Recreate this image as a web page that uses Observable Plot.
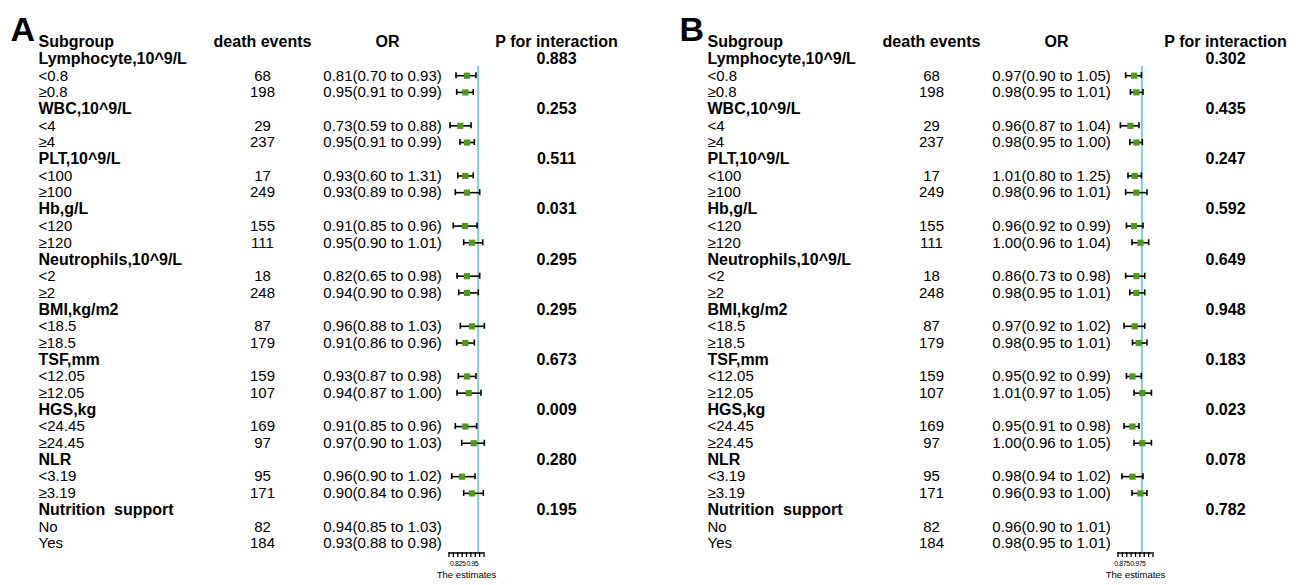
<!DOCTYPE html>
<html>
<head>
<meta charset="utf-8">
<script src="https://cdn.jsdelivr.net/npm/d3@7"></script>
<script src="https://cdn.jsdelivr.net/npm/@observablehq/plot@0.6"></script>
<style>
  body { margin: 0; background: #fff; }
  #wrap { position: relative; width: 1301px; height: 585px; overflow: hidden; background: #fff; }
  .panel { position: absolute; top: 0; }
  svg text { white-space: pre; }
  svg g[aria-label="x-axis tick label"] text { letter-spacing: -0.45px; }
</style>
</head>
<body>
<div id="wrap"></div>
<script>
// ---------- data ----------
const headers = ["Subgroup", "death events", "OR", "P for interaction"];
const groups = ["Lymphocyte,10^9/L", "WBC,10^9/L", "PLT,10^9/L", "Hb,g/L", "Neutrophils,10^9/L",
  "BMI,kg/m2", "TSF,mm", "HGS,kg", "NLR", "Nutrition  support"];
const levels = [["<0.8", "≥0.8"], ["<4", "≥4"], ["<100", "≥100"], ["<120", "≥120"], ["<2", "≥2"],
  ["<18.5", "≥18.5"], ["<12.05", "≥12.05"], ["<24.45", "≥24.45"], ["<3.19", "≥3.19"], ["No", "Yes"]];
const events = [68, 198, 29, 237, 17, 249, 155, 111, 18, 248, 87, 179, 159, 107, 169, 97, 95, 171, 82, 184];

// Panel A
const orA = ["0.81(0.70 to 0.93)", "0.95(0.91 to 0.99)", "0.73(0.59 to 0.88)", "0.95(0.91 to 0.99)",
  "0.93(0.60 to 1.31)", "0.93(0.89 to 0.98)", "0.91(0.85 to 0.96)", "0.95(0.90 to 1.01)",
  "0.82(0.65 to 0.98)", "0.94(0.90 to 0.98)", "0.96(0.88 to 1.03)", "0.91(0.86 to 0.96)",
  "0.93(0.87 to 0.98)", "0.94(0.87 to 1.00)", "0.91(0.85 to 0.96)", "0.97(0.90 to 1.03)",
  "0.96(0.90 to 1.02)", "0.90(0.84 to 0.96)", "0.94(0.85 to 1.03)", "0.93(0.88 to 0.98)"];
const pA = ["0.883", "0.253", "0.511", "0.031", "0.295", "0.295", "0.673", "0.009", "0.280", "0.195"];
// estimates as drawn in the forest column (axis units)
const estA = [0.904, 0.890, 0.847, 0.904, 0.890, 0.904, 0.887, 0.947, 0.904, 0.904, 0.947, 0.890, 0.904, 0.919, 0.890, 0.962, 0.861, 0.947, null, null];
const loA  = [0.810, 0.816, 0.759, 0.844, 0.825, 0.804, 0.787, 0.876, 0.819, 0.833, 0.847, 0.816, 0.830, 0.819, 0.804, 0.859, 0.773, 0.876, null, null];
const hiA  = [0.981, 0.958, 0.939, 0.967, 0.958, 1.013, 0.990, 1.039, 1.013, 1.001, 1.053, 0.967, 0.981, 1.024, 0.987, 1.053, 0.973, 1.044, null, null];
const domainA = [0.75, 1.05];
const ticksA = [0.75, 0.7875, 0.825, 0.8625, 0.9, 0.9375, 0.975, 1.0125, 1.05];
const tickLabelsA = [0.825, 0.95];

// Panel B
const orB = ["0.97(0.90 to 1.05)", "0.98(0.95 to 1.01)", "0.96(0.87 to 1.04)", "0.98(0.95 to 1.00)",
  "1.01(0.80 to 1.25)", "0.98(0.96 to 1.01)", "0.96(0.92 to 0.99)", "1.00(0.96 to 1.04)",
  "0.86(0.73 to 0.98)", "0.98(0.95 to 1.01)", "0.97(0.92 to 1.02)", "0.98(0.95 to 1.01)",
  "0.95(0.92 to 0.99)", "1.01(0.97 to 1.05)", "0.95(0.91 to 0.98)", "1.00(0.96 to 1.05)",
  "0.98(0.94 to 1.02)", "0.96(0.93 to 1.00)", "0.96(0.90 to 1.01)", "0.98(0.95 to 1.01)"];
const pB = ["0.302", "0.435", "0.247", "0.592", "0.649", "0.948", "0.183", "0.023", "0.078", "0.782"];
const estB = [0.951, 0.966, 0.928, 0.966, 0.955, 0.966, 0.951, 0.991, 0.966, 0.966, 0.955, 0.980, 0.941, 1.003, 0.941, 1.003, 0.941, 0.991, null, null];
const loB  = [0.898, 0.928, 0.865, 0.924, 0.913, 0.898, 0.903, 0.938, 0.898, 0.924, 0.888, 0.941, 0.903, 0.951, 0.888, 0.951, 0.875, 0.938, null, null];
const hiB  = [0.997, 1.007, 0.982, 1.003, 0.997, 1.032, 1.007, 1.043, 1.018, 1.018, 1.018, 1.032, 0.997, 1.060, 0.982, 1.060, 1.007, 1.032, null, null];
const domainB = [0.85, 1.07];
const ticksB = [0.85, 0.8775, 0.905, 0.9325, 0.96, 0.9875, 1.015, 1.0425, 1.07];
const tickLabelsB = [0.875, 0.975];

const refValue = 1;

// ---------- build ----------
function buildRows(or, p, est, lo, hi) {
  const groupRows = groups.map((g, i) => ({row: 1 + 3 * i, label: g, p: p[i]}));
  const levelRows = [];
  levels.forEach((lv, i) => lv.forEach((l, j) => {
    const k = 2 * i + j;
    levelRows.push({row: 2 + 3 * i + j, label: l, events: events[k], or: or[k], est: est[k], lo: lo[k], hi: hi[k]});
  }));
  return {groupRows, levelRows};
}

function panel(letter, or, p, est, lo, hi, domain, ticks, tickLabels, width) {
  const {groupRows, levelRows} = buildRows(or, p, est, lo, hi);
  const plotted = levelRows.filter(r => r.est != null);
  const allRows = groupRows.concat(levelRows).map(r => r.row);
  const firstRow = d3.min(allRows), lastRow = d3.max(allRows);
  const headerRow = 0;
  const col = {sub: 38, ev: 262, orText: 382, orHead: 387, p: 556};
  const fs = 15, fsb = 16;
  const green = "#4f9a16", cyan = "#7ccfd8";
  return Plot.plot({
    width, height: 585,
    marginTop: 0, marginRight: 0, marginLeft: 0, marginBottom: 33,
    style: {fontFamily: "'Liberation Sans', Arial, Helvetica, sans-serif", background: "#fff", color: "#000", overflow: "visible"},
    x: {domain, range: [448.5, 483.5]},
    y: {domain: [firstRow, lastRow], range: [58.5, 543], axis: null},
    marks: [
      Plot.text([letter], {frameAnchor: "top-left", dx: 10, dy: 16, lineAnchor: "top", fontSize: 34, fontWeight: "bold", fill: "#000"}),
      // headers
      Plot.text([headers[0]], {y: () => headerRow, frameAnchor: "left", dx: col.sub, dy: 0, textAnchor: "start", fontSize: fsb, fontWeight: "bold", fill: "#000"}),
      Plot.text([headers[1]], {y: () => headerRow, frameAnchor: "left", dx: col.ev, dy: 0, textAnchor: "middle", fontSize: fsb, fontWeight: "bold", fill: "#000"}),
      Plot.text([headers[2]], {y: () => headerRow, frameAnchor: "left", dx: col.orHead, dy: 0, textAnchor: "middle", fontSize: fsb, fontWeight: "bold", fill: "#000"}),
      Plot.text([headers[3]], {y: () => headerRow, frameAnchor: "left", dx: col.p, dy: 0, textAnchor: "middle", fontSize: fsb, fontWeight: "bold", fill: "#000"}),
      // group rows
      Plot.text(groupRows, {y: "row", text: "label", frameAnchor: "left", dx: col.sub, textAnchor: "start", fontSize: fsb, fontWeight: "bold", fill: "#000"}),
      Plot.text(groupRows, {y: "row", text: "p", frameAnchor: "left", dx: col.p, textAnchor: "middle", fontSize: fsb, fontWeight: "bold", fill: "#000"}),
      // level rows
      Plot.text(levelRows, {y: "row", text: "label", frameAnchor: "left", dx: col.sub, textAnchor: "start", fontSize: fs, fill: "#000"}),
      Plot.text(levelRows, {y: "row", text: d => String(d.events), frameAnchor: "left", dx: col.ev, textAnchor: "middle", fontSize: fs, fill: "#000"}),
      Plot.text(levelRows, {y: "row", text: "or", frameAnchor: "left", dx: col.orText, textAnchor: "middle", fontSize: fs, fill: "#000"}),
      // reference line
      Plot.ruleX([refValue], {x: d => d, y1: () => firstRow, y2: () => lastRow, insetTop: 7.5, insetBottom: -9.5, stroke: cyan, strokeWidth: 2}),
      // confidence intervals
      Plot.ruleY(plotted, {y: "row", x1: "lo", x2: "hi", stroke: "#000", strokeWidth: 1.6}),
      Plot.ruleX(plotted, {x: "lo", y1: "row", y2: "row", insetTop: -3, insetBottom: -3, stroke: "#000", strokeWidth: 1.6}),
      Plot.ruleX(plotted, {x: "hi", y1: "row", y2: "row", insetTop: -3, insetBottom: -3, stroke: "#000", strokeWidth: 1.6}),
      Plot.dot(plotted, {x: "est", y: "row", symbol: "square", r: 3.5, fill: green, stroke: "none"}),
      // x axis
      Plot.ruleY([lastRow], {y: d => d, x1: () => domain[0], x2: () => domain[1], dy: 9.5, stroke: "#000", strokeWidth: 1.6}),
      Plot.axisX(ticks, {tickSize: 5, tickFormat: () => "", label: null, stroke: "#000", strokeWidth: 1.3}),
      Plot.axisX(tickLabels, {tickSize: 0, tickPadding: 9, fontSize: 7, label: null, fill: "#000", tickFormat: d => String(d)}),
      Plot.text(["The estimates"], {x: () => (domain[0] + domain[1]) / 2, frameAnchor: "bottom", dy: 25, fontSize: 9.5, fill: "#000"})
    ]
  });
}

const wrap = document.getElementById("wrap");
const a = panel("A", orA, pA, estA, loA, hiA, domainA, ticksA, tickLabelsA, 669);
a.classList.add("panel"); a.style.left = "0px";
wrap.appendChild(a);
const b = panel("B", orB, pB, estB, loB, hiB, domainB, ticksB, tickLabelsB, 632);
b.classList.add("panel"); b.style.left = "669px";
wrap.appendChild(b);
</script>
</body>
</html>
